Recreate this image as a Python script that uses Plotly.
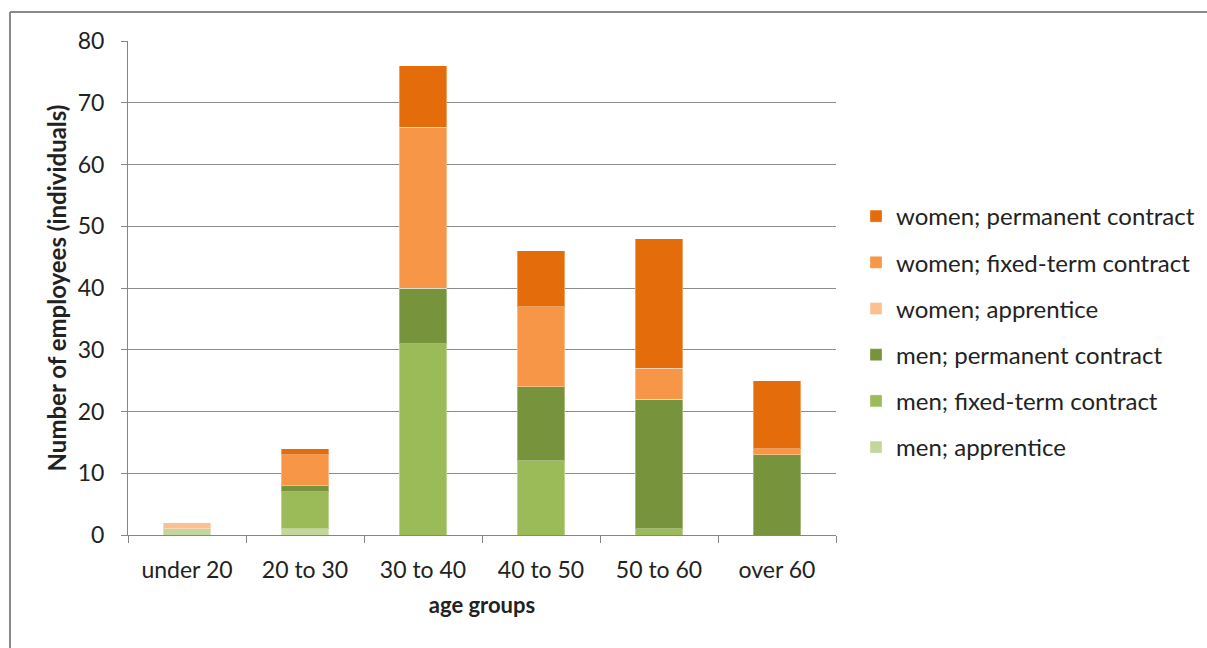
import plotly.graph_objects as go

age_groups = ["under 20", "20 to 30", "30 to 40", "40 to 50", "50 to 60", "over 60"]

men_apprentice = [1, 1, 0, 0, 0, 0]
men_fixed_term = [0, 6, 31, 12, 1, 0]
men_permanent = [0, 1, 9, 12, 21, 13]
women_apprentice = [1, 0, 0, 0, 0, 0]
women_fixed_term = [0, 5, 26, 13, 5, 1]
women_permanent = [0, 1, 10, 9, 21, 11]

y_ticks = [0, 10, 20, 30, 40, 50, 60, 70, 80]

series = [
    ("men; apprentice", men_apprentice, "#C3D69B"),
    ("men; fixed-term contract", men_fixed_term, "#9BBB59"),
    ("men; permanent contract", men_permanent, "#77933C"),
    ("women; apprentice", women_apprentice, "#FAC090"),
    ("women; fixed-term contract", women_fixed_term, "#F79646"),
    ("women; permanent contract", women_permanent, "#E46C0A"),
]

FONT = "Lato, 'Open Sans', sans-serif"
W, H = 1207, 648
ML, MR, MT, MB = 128, 371, 41, 113
PW, PH = W - ML - MR, H - MT - MB

fig = go.Figure()
for i, (name, vals, color) in enumerate(series):
    fig.add_trace(go.Bar(
        x=age_groups, y=vals, name=name, legendgroup=name,
        legendrank=len(series) - i,
        marker=dict(color=color, line=dict(color="rgba(255,255,255,0.35)", width=1)),
    ))

# outer frame of the chart area (left and top edges)
fx0 = (10 - ML) / PW
fy1 = 1 + (MT - 12) / PH
fx1 = 1 + (MR + 5) / PW
fy0 = -(MB + 5) / PH

fig.update_layout(
    width=W, height=H,
    margin=dict(l=ML, r=MR, t=MT, b=MB, autoexpand=False),
    barmode="stack", bargap=0.6,
    plot_bgcolor="white", paper_bgcolor="white",
    font=dict(family=FONT, size=24, color="#222222"),
    legend=dict(
        x=(856 - ML) / PW, y=(MT + PH - 332) / PH, xanchor="left", yanchor="middle",
        traceorder="grouped", tracegroupgap=12,
        font=dict(family=FONT, size=24, color="#222222"),
        itemwidth=30,
    ),
    xaxis=dict(
        title=dict(text="<b>age groups</b>", font=dict(family=FONT, size=22), standoff=16),
        showline=True, linecolor="#868686", linewidth=1,
        ticks="outside", tickson="boundaries", ticklen=7, tickcolor="#868686",
        tickfont=dict(family=FONT, size=23),
        ticklabelstandoff=14,
        showgrid=False,
    ),
    yaxis=dict(
        title=dict(text="<b>Number of employees (individuals)</b>", font=dict(family=FONT, size=24), standoff=4),
        range=[0, 80], tickvals=y_ticks,
        showline=True, linecolor="#868686", linewidth=1,
        ticks="outside", ticklen=6, tickcolor="#868686",
        tickfont=dict(family=FONT, size=23),
        ticklabelstandoff=12,
        showgrid=True, gridcolor="#8C8C8C", gridwidth=1,
        zeroline=False,
    ),
    shapes=[
        dict(type="line", xref="paper", yref="paper", x0=fx0, x1=fx0, y0=fy0, y1=fy1,
             line=dict(color="#8A8A8A", width=2)),
        dict(type="line", xref="paper", yref="paper", x0=fx0, x1=fx1, y0=fy1, y1=fy1,
             line=dict(color="#8A8A8A", width=2)),
    ],
)

fig.write_html("out.html")
